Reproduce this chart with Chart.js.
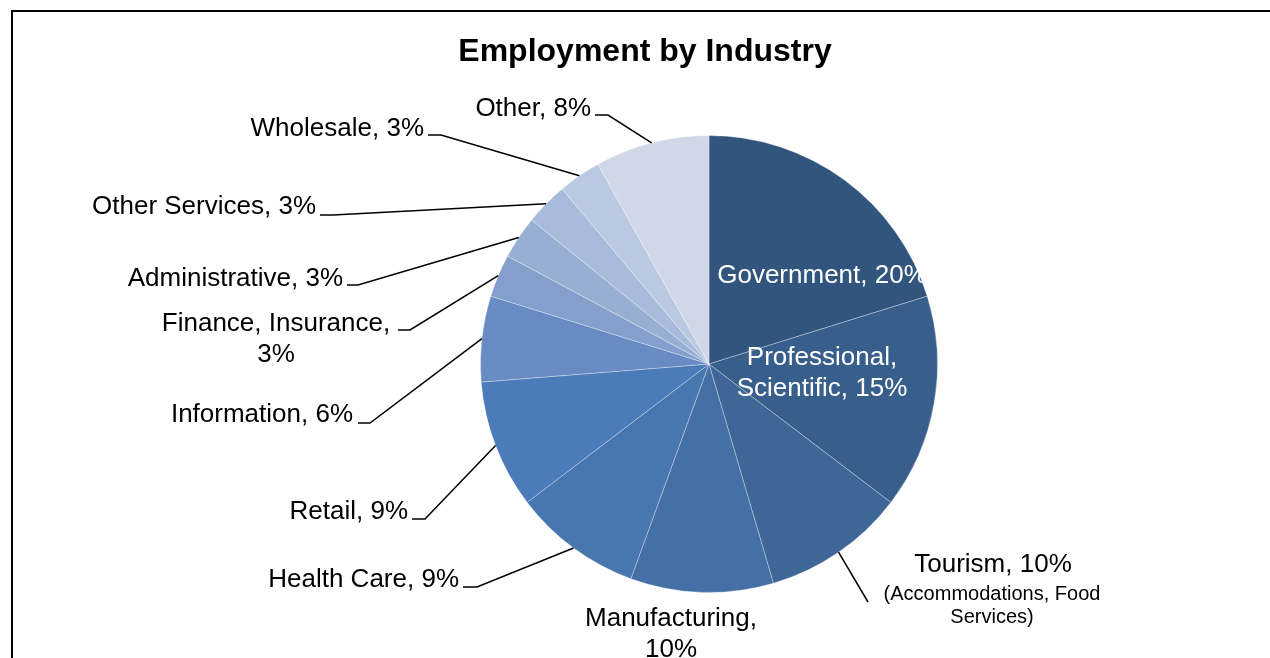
<!DOCTYPE html>
<html>
<head>
<meta charset="utf-8">
<script src="https://cdn.jsdelivr.net/npm/chart.js@4.4.0/dist/chart.umd.min.js"></script>
<style>
  html, body { margin: 0; padding: 0; background: #fff; overflow: hidden; }
  #wrap { width: 1270px; height: 658px; position: relative; }
</style>
</head>
<body>
<div id="wrap"><canvas id="myChart"></canvas></div>
<script>
// data (percent of employment)
const categories = ['Government', 'Professional, Scientific', 'Tourism', 'Manufacturing', 'Health Care',
  'Retail', 'Information', 'Finance, Insurance', 'Administrative', 'Other Services', 'Wholesale', 'Other'];
const shares = [20, 15, 10, 10, 9, 9, 6, 3, 3, 3, 3, 8];
const sliceColors = ['#31557d', '#385e8c', '#3e6797', '#4470a5', '#4877b0', '#4b7bb8',
  '#678bc2', '#849fcb', '#98aed3', '#a9bbda', '#bac8e1', '#d0d8e7'];

// how the labels are broken into lines
const labelLines = [
  ['Government, 20%'],
  ['Professional,', 'Scientific, 15%'],
  ['Tourism, 10%'],
  ['Manufacturing,', '10%'],
  ['Health Care, 9%'],
  ['Retail, 9%'],
  ['Information, 6%'],
  ['Finance, Insurance,', '3%'],
  ['Administrative, 3%'],
  ['Other Services, 3%'],
  ['Wholesale, 3%'],
  ['Other, 8%']
];
const tourismNote = ['(Accommodations, Food', 'Services)'];

// where each label sits and where its leader line starts
const labelPos = [
  { x: 822, y: 276, align: 'center', color: '#fff', leader: null },
  { x: 822, y: 358, align: 'center', color: '#fff', leader: null },
  { x: 993, y: 565, align: 'center', color: '#000', leader: [[868, 602]] },
  { x: 671, y: 619, align: 'center', color: '#000', leader: null },
  { x: 459, y: 580, align: 'right', color: '#000', leader: [[463, 587], [477, 587]] },
  { x: 408, y: 512, align: 'right', color: '#000', leader: [[412, 519], [425, 519]] },
  { x: 353, y: 415, align: 'right', color: '#000', leader: [[358, 423], [370, 423]] },
  { x: 276, y: 324, align: 'center', color: '#000', leader: [[398, 330], [410, 330]] },
  { x: 343, y: 279, align: 'right', color: '#000', leader: [[347, 285], [358, 285]] },
  { x: 316, y: 207, align: 'right', color: '#000', leader: [[320, 215], [333, 215]] },
  { x: 424, y: 129, align: 'right', color: '#000', leader: [[428, 135], [441, 135]] },
  { x: 591, y: 109, align: 'right', color: '#000', leader: [[595, 115], [608, 115]] }
];

const FONT = '"Liberation Sans", Arial, sans-serif';

// frame, title, labels and leader lines
const labelPlugin = {
    id: 'pieLabels',
    beforeDraw(chart) {
        const ctx = chart.ctx;
        ctx.save();
        ctx.fillStyle = '#fff';
        ctx.fillRect(0, 0, chart.width, chart.height);
        ctx.restore();
    },
    afterDraw(chart) {
        const ctx = chart.ctx;
        const arcs = chart.getDatasetMeta(0).data;
        ctx.save();

        // outer frame (runs off the right and bottom)
        ctx.strokeStyle = '#000';
        ctx.lineWidth = 2;
        ctx.strokeRect(12, 11, 1400, 800);

        // title
        ctx.fillStyle = '#000';
        ctx.font = 'bold 32px ' + FONT;
        ctx.textAlign = 'center';
        ctx.textBaseline = 'middle';
        ctx.fillText('Employment by Industry', 645, 52);

        arcs.forEach((arc, i) => {
            const p = arc.getProps(['x', 'y', 'startAngle', 'endAngle', 'outerRadius'], true);
            const mid = (p.startAngle + p.endAngle) / 2;
            const ex = p.x + Math.cos(mid) * p.outerRadius;
            const ey = p.y + Math.sin(mid) * p.outerRadius;
            const pos = labelPos[i];

            if (pos.leader) {
                ctx.beginPath();
                ctx.strokeStyle = '#000';
                ctx.lineWidth = 1.5;
                ctx.moveTo(pos.leader[0][0], pos.leader[0][1]);
                pos.leader.slice(1).forEach(pt => ctx.lineTo(pt[0], pt[1]));
                ctx.lineTo(ex, ey);
                ctx.stroke();
            }

            ctx.fillStyle = pos.color;
            ctx.font = '26px ' + FONT;
            ctx.textAlign = pos.align;
            ctx.textBaseline = 'middle';
            labelLines[i].forEach((line, k) => {
                ctx.fillText(line, pos.x, pos.y + k * 30.5);
            });
            if (i === 2) {
                ctx.font = '20px ' + FONT;
                tourismNote.forEach((line, k) => {
                    ctx.fillText(line, pos.x - 1, pos.y + 29 + k * 23);
                });
            }
        });
        ctx.restore();
    }
};

const data = {
    labels: categories,
    datasets: [{
        data: shares,
        backgroundColor: sliceColors,
        borderColor: 'rgba(255,255,255,0.3)',
        borderWidth: 1,
        hoverOffset: 0,
        offset: 0
    }]
};

const config = {
    type: 'pie',
    data: data,
    options: {
        responsive: true,
        maintainAspectRatio: false,
        animation: false,
        events: [],
        layout: { padding: { left: 480, right: 332, top: 135, bottom: 65 } },
        plugins: {
            legend: { display: false },
            title: { display: false },
            tooltip: { enabled: false }
        }
    },
    plugins: [labelPlugin]
};

new Chart(document.getElementById('myChart'), config);
</script>
</body>
</html>
